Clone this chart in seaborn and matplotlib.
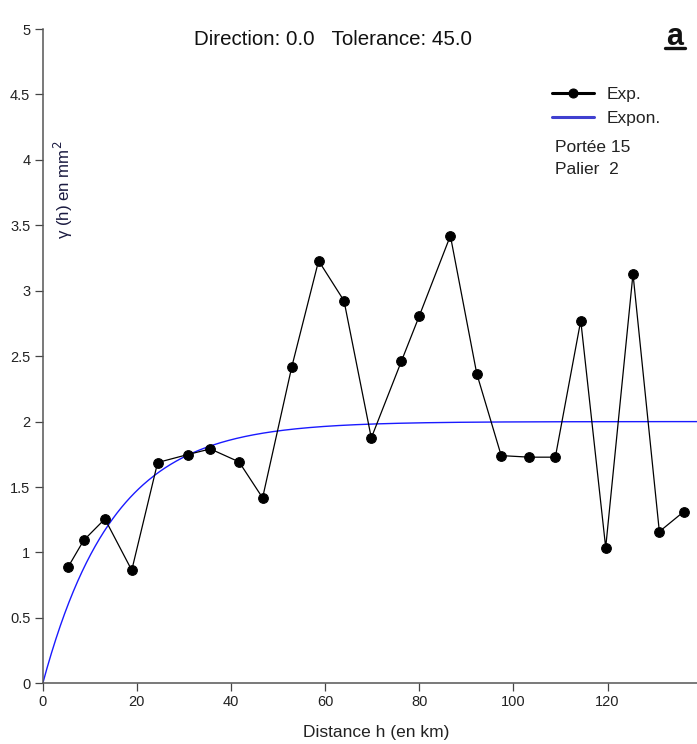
import numpy as np
import pandas as pd
import matplotlib
matplotlib.use("Agg")
import matplotlib.pyplot as plt
import seaborn as sns
from matplotlib.lines import Line2D

# Experimental variogram
h_exp = [5.4, 8.7, 13.2, 18.9, 24.4, 30.8, 35.6, 41.7, 46.7, 52.9, 58.6, 64.0, 69.8,
         76.2, 80.0, 86.6, 92.2, 97.4, 103.4, 108.9, 114.3, 119.6, 125.4, 131.0, 136.2]
gamma_exp = [0.89, 1.093, 1.256, 0.864, 1.687, 1.748, 1.791, 1.692, 1.417, 2.418, 3.229,
             2.923, 1.875, 2.462, 2.808, 3.420, 2.367, 1.740, 1.728, 1.728, 2.772, 1.037,
             3.129, 1.159, 1.312]

# Exponential model parameters
portee = 15
palier = 2
h_max = 139

x_ticks = [0, 20, 40, 60, 80, 100, 120]
y_ticks = [0, 0.5, 1, 1.5, 2, 2.5, 3, 3.5, 4, 4.5, 5]
y_tick_labels = ["0", "0.5", "1", "1.5", "2", "2.5", "3", "3.5", "4", "4.5", "5"]

sns.set_theme(style="ticks")
plt.rcParams['font.family'] = ['Liberation Sans', 'DejaVu Sans']

fig = plt.figure(figsize=(6.97, 7.44), dpi=100)
ax = fig.add_axes([0.0614, 0.0816, 0.9386, 0.8794])

h_model = np.linspace(0, h_max, 600)
df_model = pd.DataFrame({"h": h_model, "g": palier * (1 - np.exp(-h_model / portee))})
df_exp = pd.DataFrame({"h": h_exp, "g": gamma_exp})

sns.lineplot(data=df_model, x="h", y="g", ax=ax, color="#1a1aff", linewidth=1.0,
             label="Expon.", sort=True)
sns.lineplot(data=df_exp, x="h", y="g", ax=ax, color="black", linewidth=0.9,
             marker="o", markersize=7, markeredgecolor="black", label="Exp.", sort=False)

ax.set_xlim(0, h_max)
ax.set_ylim(0, 5)
ax.set_xticks(x_ticks)
ax.set_xticklabels([str(t) for t in x_ticks])
ax.set_yticks(y_ticks)
ax.set_yticklabels(y_tick_labels)
ax.tick_params(axis="both", direction="out", length=6, width=0.9, color="#444444",
               labelsize=10.5, labelcolor="#222222")
ax.tick_params(axis="x", pad=2.5)
ax.tick_params(axis="y", pad=3)
for s in ["top", "right"]:
    ax.spines[s].set_visible(False)
for s in ["left", "bottom"]:
    ax.spines[s].set_color("#555555")
    ax.spines[s].set_linewidth(1.1)

ax.set_xlabel("Distance h (en km)", fontsize=12.5, color="#222222")
ax.xaxis.set_label_coords(0.51, -0.064)
ax.set_ylabel("")
ax.text(0.031, 0.755, "γ (h) en mm$^{2}$", transform=ax.transAxes, rotation=90,
        ha="center", va="center", fontsize=12.2, color="#1a1a40")

fig.text(0.478, 0.947, "Direction: 0.0   Tolerance: 45.0", ha="center", va="center",
         fontsize=14.8, color="#111111")
fig.text(0.968, 0.950, "a", ha="center", va="center", fontsize=22, fontweight="bold",
         color="#111111")
fig.add_artist(Line2D([0.954, 0.983], [0.935, 0.935], transform=fig.transFigure,
                      color="#111111", linewidth=2.4))

handles, labels = ax.get_legend_handles_labels()
order = [labels.index("Exp."), labels.index("Expon.")]
leg = ax.legend([handles[i] for i in order], [labels[i] for i in order],
                loc="upper left", bbox_to_anchor=(0.779, 0.912), frameon=False,
                fontsize=12.5, handlelength=2.4, handletextpad=0.75, labelspacing=0.52,
                borderaxespad=0, borderpad=0)
for t in leg.get_texts():
    t.set_color("#222222")
leg.legend_handles[1].set_color("#4040d0")
leg.legend_handles[1].set_linewidth(2.2)
leg.legend_handles[0].set_linewidth(2.2)
leg.legend_handles[0].set_markersize(6.5)

fig.text(0.796, 0.802, f"Portée {portee}", ha="left", va="center", fontsize=12.5,
         color="#222222")
fig.text(0.796, 0.772, f"Palier  {palier}", ha="left", va="center", fontsize=12.5,
         color="#222222")

fig.savefig("out.png", dpi=100)
